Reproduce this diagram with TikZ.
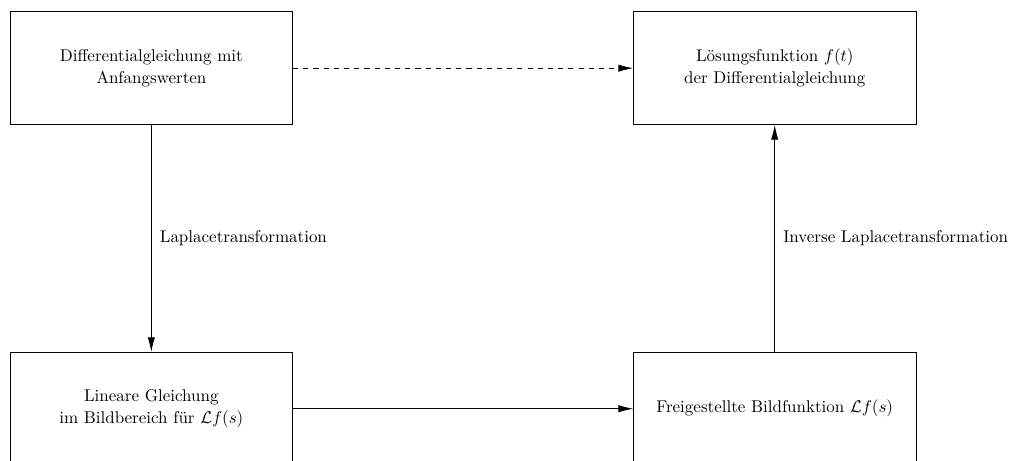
\documentclass[tikz,border=0pt]{standalone}
\usepackage{amsmath}
\usepackage{amssymb}
\usetikzlibrary{positioning,arrows.meta}
\tikzstyle{kasten} = [draw, rectangle, minimum width=5.85cm, minimum height=2.34cm, align=center]
\tikzstyle{pfeil} = [-{Latex[length=3mm,width=1.5mm]}]
\tikzstyle{beschriftung} = [right=1.5pt, align=left]

\begin{document}
\begin{tikzpicture}
		\useasboundingbox (0,0) rectangle (20.87,9.53);
		\node[kasten] (dgl) at (3.13,8.12) {Differentialgleichung mit\\[1pt] Anfangswerten};
		\node[kasten, right=7.03cm of dgl] (loesung) {L\"osungsfunktion $f(t)$\\[1pt] der Differentialgleichung};
		\node[kasten, below=4.69cm of dgl] (bild) {Lineare Gleichung\\[1pt] im Bildbereich f\"ur $\mathcal{L}f(s)$};
		\node[kasten, below=4.69cm of loesung] (frei) {Freigestellte Bildfunktion $\mathcal{L}f(s)$};
		\draw[pfeil, dashed] (dgl) -- (loesung);
		\draw[pfeil] (dgl) -- node[beschriftung]{Laplacetransformation} (bild);
		\draw[pfeil] (bild) -- (frei);
		\draw[pfeil] (frei) -- node[beschriftung]{Inverse Laplacetransformation} (loesung);
	\end{tikzpicture}
\end{document}
